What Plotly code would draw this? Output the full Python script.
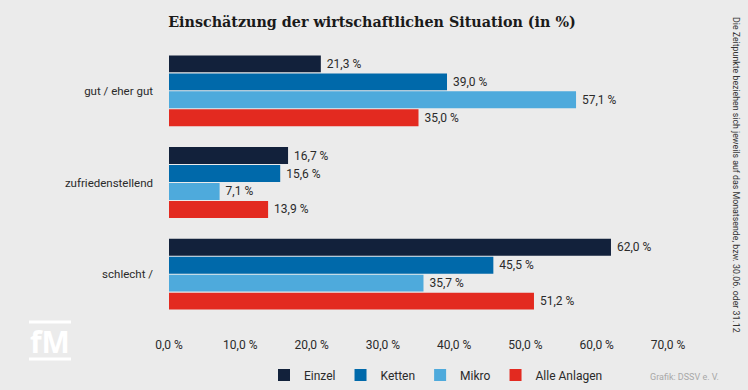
import plotly.graph_objects as go

categories = ["gut / eher gut", "zufriedenstellend", "schlecht /"]
series_names = ["Einzel", "Ketten", "Mikro", "Alle Anlagen"]
einzel = [21.3, 16.7, 62.0]
ketten = [39.0, 15.6, 45.5]
mikro = [57.1, 7.1, 35.7]
alle = [35.0, 13.9, 51.2]
x_ticks = [0, 10, 20, 30, 40, 50, 60, 70]
x_tick_labels = ["0,0 %", "10,0 %", "20,0 %", "30,0 %", "40,0 %", "50,0 %", "60,0 %", "70,0 %"]

colors = ["#12213b", "#0069aa", "#4eaadc", "#e32a20"]
values = [einzel, ketten, mikro, alle]

fig = go.Figure()
for name, vals, col in zip(series_names, values, colors):
    fig.add_trace(go.Bar(
        y=categories, x=vals, name=name, orientation="h",
        marker=dict(color=col, line=dict(width=0)),
        texttemplate=" %{x:.1f} %", textposition="outside",
        textfont=dict(family="Roboto", size=12, color="#2a2a2a"),
        cliponaxis=False,
    ))

BG = "#ebebeb"
W, H = 748, 390
ML, MR, MT, MB = 169, 80, 45, 70
PW, PH = W - ML - MR, H - MT - MB


def px_x(p):
    return (p - ML) / PW


def px_y(p):
    return (H - MB - p) / PH


fig.update_layout(
    width=W, height=H,
    paper_bgcolor=BG, plot_bgcolor=BG,
    separators=",.",
    barmode="group", bargap=0.215, bargroupgap=0.06,
    margin=dict(l=ML, r=MR, t=MT, b=MB, autoexpand=False),
    font=dict(family="Roboto", size=12, color="#2a2a2a"),
    title=dict(text="<b>Einschätzung der wirtschaftlichen Situation (in %)</b>",
               font=dict(family="DejaVu Serif", size=14.3, color="#1a1a1a"),
               x=372 / W, xanchor="center", y=1 - 22 / H, yanchor="middle"),
    xaxis=dict(range=[0, 70], tickvals=x_ticks, ticktext=x_tick_labels,
               showgrid=False, zeroline=False, showline=False, ticks="",
               tickfont=dict(family="Roboto", size=12, color="#2a2a2a"),
               ticklabelstandoff=16, automargin=False),
    yaxis=dict(autorange="reversed", showgrid=False, zeroline=False, showline=False,
               ticks="", tickfont=dict(family="Roboto", size=11.5, color="#2a2a2a"),
               ticklabelstandoff=15, automargin=False),
    legend=dict(orientation="h", x=px_x(264), xanchor="left", y=px_y(375), yanchor="middle",
                font=dict(family="Roboto", size=12, color="#2a2a2a"),
                itemwidth=30, bgcolor="rgba(0,0,0,0)", traceorder="normal"),
    showlegend=True,
)

# side note
fig.add_annotation(text="Die Zeitpunkte beziehen sich jeweils auf das Monatsende, bzw. 30.06. oder 31.12",
                   xref="paper", yref="paper", x=px_x(736), y=px_y(175),
                   xanchor="center", yanchor="middle",
                   textangle=90, showarrow=False,
                   font=dict(family="Roboto", size=8.8, color="#333333"))
fig.add_annotation(text="Grafik: DSSV e. V.", xref="paper", yref="paper",
                   x=px_x(721), y=px_y(377), xanchor="right", yanchor="middle",
                   showarrow=False, font=dict(family="Roboto", size=9, color="#a8a8a8"))

# logo
fig.add_annotation(text="<b>fM</b>", xref="paper", yref="paper", x=px_x(50), y=px_y(341),
                   xanchor="center", yanchor="middle", showarrow=False,
                   font=dict(family="Open Sans", size=30, color="#ffffff"))
for yy in [322, 359]:
    fig.add_shape(type="line", xref="paper", yref="paper", x0=px_x(29), x1=px_x(71),
                  y0=px_y(yy), y1=px_y(yy), line=dict(color="#ffffff", width=3))

fig.write_html("out.html", config={"displayModeBar": False},
               post_script="document.body.style.margin='0';")
